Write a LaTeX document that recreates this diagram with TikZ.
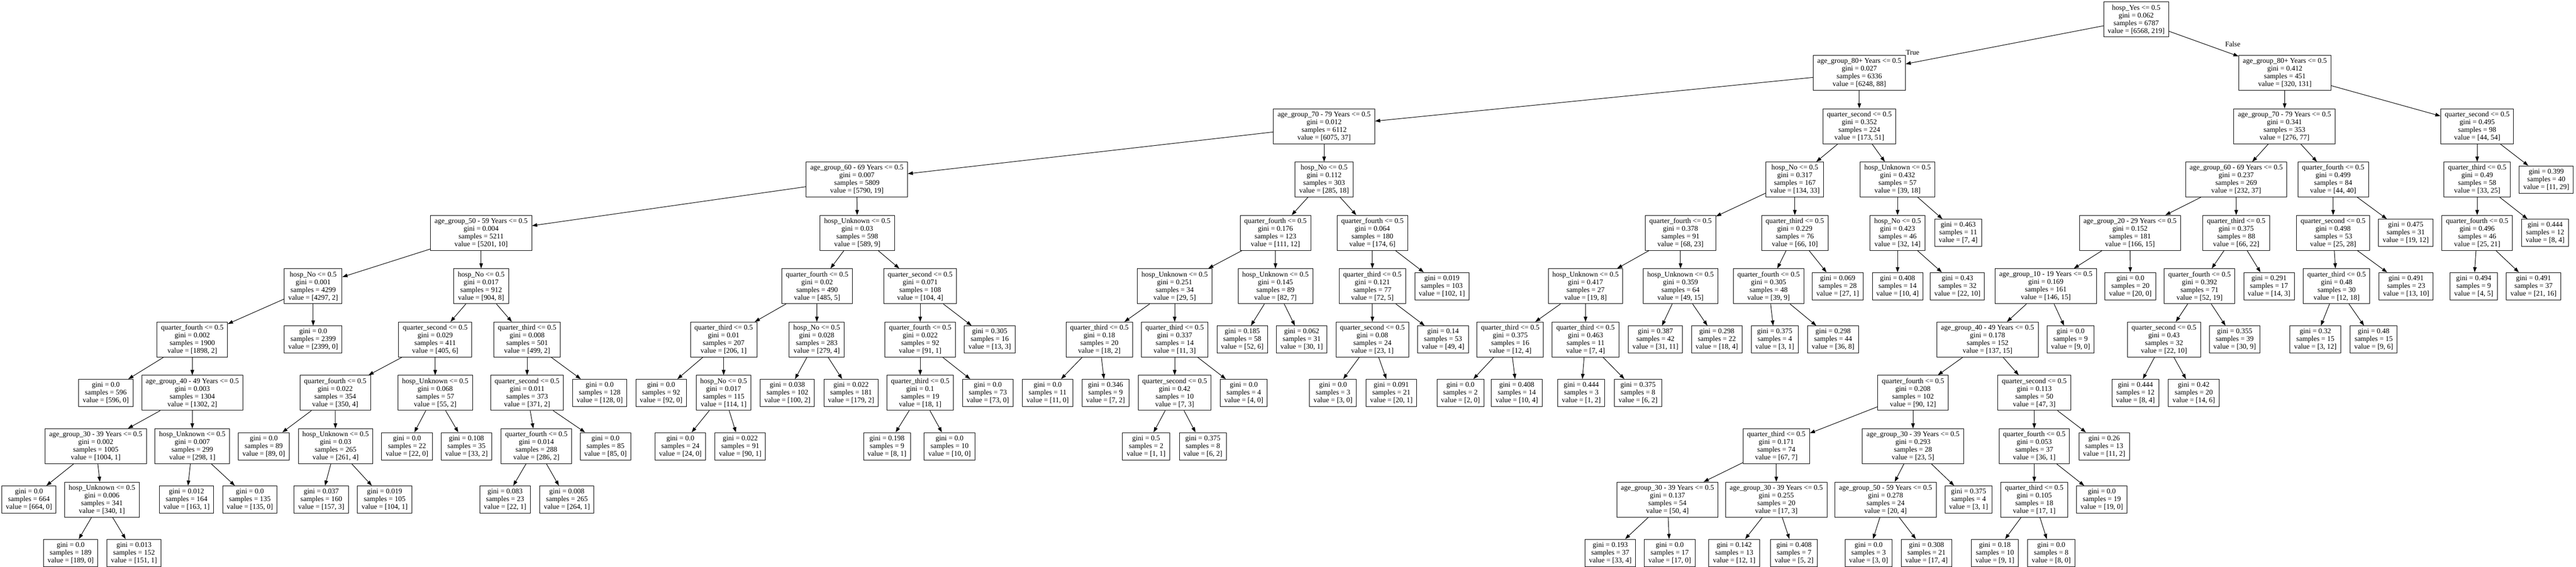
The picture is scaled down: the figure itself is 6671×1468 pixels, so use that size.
\documentclass[tikz,border=0pt]{standalone}
\usepackage{fontspec}
\setmainfont{Liberation Serif}
\usepackage{tikz}
\usetikzlibrary{arrows.meta}

\newcommand{\rowy}[1]{50.5+138.2*#1}

\begin{document}
\begin{tikzpicture}[x=0.75pt, y=-0.75pt,
        split/.style={draw, line width=1pt, rectangle, align=center, inner xsep=7.9pt, inner ysep=4pt, minimum height=68pt, font=\fontsize{14}{15}\selectfont},
        leaf/.style={split, minimum height=53pt},
        edge/.style={line width=1pt, -{Triangle[length=10pt, width=7pt]}},
        lbl/.style={font=\fontsize{14}{15}\selectfont, inner sep=0pt}]
            \useasboundingbox (0,0) rectangle (6671,1468);
            % split nodes: name/x/level/feature/gini/samples/value
            \foreach \nm/\px/\lv/\ft/\gn/\sm/\vl in {
                    root/5532/0/{hosp\_Yes}/0.062/6787/{6568, 219},
                    a80L/4815/1/{age\_group\_80+ Years}/0.027/6336/{6248, 88},
                    a80R/5917/1/{age\_group\_80+ Years}/0.412/451/{320, 131},
                    a70L/3429/2/{age\_group\_70 - 79 Years}/0.012/6112/{6075, 37},
                    qs352/4815/2/{quarter\_second}/0.352/224/{173, 51},
                    a70R/5916/2/{age\_group\_70 - 79 Years}/0.341/353/{276, 77},
                    qs495/6415/2/{quarter\_second}/0.495/98/{44, 54},
                    a60L/2219/3/{age\_group\_60 - 69 Years}/0.007/5809/{5790, 19},
                    hn112/3429/3/{hosp\_No}/0.112/303/{285, 18},
                    hn317/4648/3/{hosp\_No}/0.317/167/{134, 33},
                    hu432/4914/3/{hosp\_Unknown}/0.432/57/{39, 18},
                    a60R/5791/3/{age\_group\_60 - 69 Years}/0.237/269/{232, 37},
                    qf499/6042/3/{quarter\_fourth}/0.499/84/{44, 40},
                    qt49/6415/3/{quarter\_third}/0.49/58/{33, 25},
                    a50/1246/4/{age\_group\_50 - 59 Years}/0.004/5211/{5201, 10},
                    hu03/2220/4/{hosp\_Unknown}/0.03/598/{589, 9},
                    qf176/3303/4/{quarter\_fourth}/0.176/123/{111, 12},
                    qf064/3554/4/{quarter\_fourth}/0.064/180/{174, 6},
                    qf378/4352/4/{quarter\_fourth}/0.378/91/{68, 23},
                    qt229/4648/4/{quarter\_third}/0.229/76/{66, 10},
                    hn423/4914/4/{hosp\_No}/0.423/46/{32, 14},
                    a20/5516/4/{age\_group\_20 - 29 Years}/0.152/181/{166, 15},
                    qt375b/5791/4/{quarter\_third}/0.375/88/{66, 22},
                    qs498/6042/4/{quarter\_second}/0.498/53/{25, 28},
                    qf496/6415/4/{quarter\_fourth}/0.496/46/{25, 21},
                    hn001/811/5/{hosp\_No}/0.001/4299/{4297, 2},
                    hn017/1246/5/{hosp\_No}/0.017/912/{904, 8},
                    qf02/2116/5/{quarter\_fourth}/0.02/490/{485, 5},
                    qs071/2383/5/{quarter\_second}/0.071/108/{104, 4},
                    hu251/3042/5/{hosp\_Unknown}/0.251/34/{29, 5},
                    hu145/3303/5/{hosp\_Unknown}/0.145/89/{82, 7},
                    qt121/3554/5/{quarter\_third}/0.121/77/{72, 5},
                    hu417/4106/5/{hosp\_Unknown}/0.417/27/{19, 8},
                    hu359/4352/5/{hosp\_Unknown}/0.359/64/{49, 15},
                    qf305/4580/5/{quarter\_fourth}/0.305/48/{39, 9},
                    a10/5298/5/{age\_group\_10 - 19 Years}/0.169/161/{146, 15},
                    qf392/5696/5/{quarter\_fourth}/0.392/71/{52, 19},
                    qt48/6051/5/{quarter\_third}/0.48/30/{12, 18},
                    qf002/498/6/{quarter\_fourth}/0.002/1900/{1898, 2},
                    qs029/1127/6/{quarter\_second}/0.029/411/{405, 6},
                    qt008/1365/6/{quarter\_third}/0.008/501/{499, 2},
                    qt01/1874/6/{quarter\_third}/0.01/207/{206, 1},
                    hn028/2115/6/{hosp\_No}/0.028/283/{279, 4},
                    qf022b/2383/6/{quarter\_fourth}/0.022/92/{91, 1},
                    qt18/2847/6/{quarter\_third}/0.18/20/{18, 2},
                    qt337/3042/6/{quarter\_third}/0.337/14/{11, 3},
                    qs08/3554/6/{quarter\_second}/0.08/24/{23, 1},
                    qt375a/3911/6/{quarter\_third}/0.375/16/{12, 4},
                    qt463/4106/6/{quarter\_third}/0.463/11/{7, 4},
                    a40b/5147/6/{age\_group\_40 - 49 Years}/0.178/152/{137, 15},
                    qs043/5604/6/{quarter\_second}/0.43/32/{22, 10},
                    a40/498/7/{age\_group\_40 - 49 Years}/0.003/1304/{1302, 2},
                    qf022/868/7/{quarter\_fourth}/0.022/354/{350, 4},
                    hu068/1127/7/{hosp\_Unknown}/0.068/57/{55, 2},
                    qs011/1365/7/{quarter\_second}/0.011/373/{371, 2},
                    hn017b/1874/7/{hosp\_No}/0.017/115/{114, 1},
                    qt1/2383/7/{quarter\_third}/0.1/19/{18, 1},
                    qs042/3042/7/{quarter\_second}/0.42/10/{7, 3},
                    qf208/4954/7/{quarter\_fourth}/0.208/102/{90, 12},
                    qs113/5268/7/{quarter\_second}/0.113/50/{47, 3},
                    a30/248/8/{age\_group\_30 - 39 Years}/0.002/1005/{1004, 1},
                    hu007/498/8/{hosp\_Unknown}/0.007/299/{298, 1},
                    hu03b/869/8/{hosp\_Unknown}/0.03/265/{261, 4},
                    qf014/1389/8/{quarter\_fourth}/0.014/288/{286, 2},
                    qt171/4600/8/{quarter\_third}/0.171/74/{67, 7},
                    a30b/4954/8/{age\_group\_30 - 39 Years}/0.293/28/{23, 5},
                    qf053/5268/8/{quarter\_fourth}/0.053/37/{36, 1},
                    hu006/264/9/{hosp\_Unknown}/0.006/341/{340, 1},
                    a30c/4318/9/{age\_group\_30 - 39 Years}/0.137/54/{50, 4},
                    a30d/4600/9/{age\_group\_30 - 39 Years}/0.255/20/{17, 3},
                    a50b/4883/9/{age\_group\_50 - 59 Years}/0.278/24/{20, 4},
                    qt105/5268/9/{quarter\_third}/0.105/18/{17, 1}} {
                    \node[split] (\nm) at (\px,{\rowy{\lv}}) {\ft{} <= 0.5\\gini = \gn\\samples = \sm\\value = [\vl]};
                }
            % leaves: name/x/level/gini/samples/value
            \foreach \nm/\px/\lv/\gn/\sm/\vl in {
                    l399/6594/3/0.399/40/{11, 29},
                    l463/5071/4/0.463/11/{7, 4}, l475/6230/4/0.475/31/{19, 12}, l444a/6591/4/0.444/12/{8, 4},
                    l019/3734/5/0.019/103/{102, 1}, l069/4759/5/0.069/28/{27, 1}, l408a/4914/5/0.408/14/{10, 4},
                    l43/5069/5/0.43/32/{22, 10}, lz20/5517/5/0.0/20/{20, 0}, l291/5876/5/0.291/17/{14, 3},
                    l491a/6231/5/0.491/23/{13, 10}, l494/6406/5/0.494/9/{4, 5}, l491b/6561/5/0.491/37/{21, 16},
                    lz2399/811/6/0.0/2399/{2399, 0}, l305/2563/6/0.305/16/{13, 3}, l185/3217/6/0.185/58/{52, 6},
                    l062/3371/6/0.062/31/{30, 1}, l14/3737/6/0.14/53/{49, 4}, l387/4287/6/0.387/42/{31, 11},
                    l298a/4446/6/0.298/22/{18, 4}, l375a/4596/6/0.375/4/{3, 1}, l298b/4747/6/0.298/44/{36, 8},
                    lz9/5362/6/0.0/9/{9, 0}, l355/5787/6/0.355/39/{30, 9}, l32/5996/6/0.32/15/{3, 12},
                    l48/6147/6/0.48/15/{9, 6},
                    lz596/274/7/0.0/596/{596, 0}, lz128/1553/7/0.0/128/{128, 0}, lz92/1712/7/0.0/92/{92, 0},
                    l038/2039/7/0.038/102/{100, 2}, l022a/2204/7/0.022/181/{179, 2}, lz73/2558/7/0.0/73/{73, 0},
                    lz11/2713/7/0.0/11/{11, 0}, l346/2863/7/0.346/9/{7, 2}, lz4/3221/7/0.0/4/{4, 0},
                    lz3a/3452/7/0.0/3/{3, 0}, l091/3603/7/0.091/21/{20, 1}, lz2a/3782/7/0.0/2/{2, 0},
                    l408b/3928/7/0.408/14/{10, 4}, l444b/4095/7/0.444/3/{1, 2}, l375b/4242/7/0.375/8/{6, 2},
                    l444c/5530/7/0.444/12/{8, 4}, l42/5681/7/0.42/20/{14, 6},
                    lz89/683/8/0.0/89/{89, 0}, lz22/1054/8/0.0/22/{22, 0}, l108/1208/8/0.108/35/{33, 2},
                    lz85/1568/8/0.0/85/{85, 0}, lz24/1762/8/0.0/24/{24, 0}, l022b/1917/8/0.022/91/{90, 1},
                    l198/2297/8/0.198/9/{8, 1}, lz10/2459/8/0.0/10/{10, 0}, l5/2968/8/0.5/2/{1, 1},
                    l375c/3115/8/0.375/8/{6, 2}, l26/5449/8/0.26/13/{11, 2},
                    lz664/75/9/0.0/664/{664, 0}, l012/483/9/0.012/164/{163, 1}, lz135/647/9/0.0/135/{135, 0},
                    l037/832/9/0.037/160/{157, 3}, l019b/996/9/0.019/105/{104, 1}, l083/1308/9/0.083/23/{22, 1},
                    l008/1468/9/0.008/265/{264, 1}, l375d/5098/9/0.375/4/{3, 1}, lz19/5443/9/0.0/19/{19, 0},
                    lz189/183/10/0.0/189/{189, 0}, l013/347/10/0.013/152/{151, 1}, l193/4170/10/0.193/37/{33, 4},
                    lz17/4324/10/0.0/17/{17, 0}, l142/4491/10/0.142/13/{12, 1}, l408c/4646/10/0.408/7/{5, 2},
                    lz3b/4839/10/0.0/3/{3, 0}, l308/4989/10/0.308/21/{17, 4}, l18/5166/10/0.18/10/{9, 1},
                    lz8/5312/10/0.0/8/{8, 0}} {
                    \node[leaf] (\nm) at (\px,{\rowy{\lv}}) {gini = \gn\\samples = \sm\\value = [\vl]};
                }
            \foreach \a/\b in {root/a80L, root/a80R,
                    a80L/a70L, a80L/qs352, a70L/a60L, a70L/hn112, a60L/a50, a60L/hu03,
                    a50/hn001, a50/hn017, hn001/qf002, hn001/lz2399, qf002/lz596, qf002/a40,
                    a40/a30, a40/hu007, a30/lz664, a30/hu006, hu006/lz189, hu006/l013,
                    hu007/l012, hu007/lz135, hn017/qs029, hn017/qt008, qs029/qf022, qs029/hu068,
                    qf022/lz89, qf022/hu03b, hu03b/l037, hu03b/l019b, hu068/lz22, hu068/l108,
                    qt008/qs011, qt008/lz128, qs011/qf014, qs011/lz85, qf014/l083, qf014/l008,
                    hu03/qf02, hu03/qs071, qf02/qt01, qf02/hn028, qt01/lz92, qt01/hn017b,
                    hn017b/lz24, hn017b/l022b, hn028/l038, hn028/l022a, qs071/qf022b, qs071/l305,
                    qf022b/qt1, qf022b/lz73, qt1/l198, qt1/lz10,
                    hn112/qf176, hn112/qf064, qf176/hu251, qf176/hu145, hu251/qt18, hu251/qt337,
                    qt18/lz11, qt18/l346, qt337/qs042, qt337/lz4, qs042/l5, qs042/l375c,
                    hu145/l185, hu145/l062, qf064/qt121, qf064/l019, qt121/qs08, qt121/l14,
                    qs08/lz3a, qs08/l091,
                    qs352/hn317, qs352/hu432, hn317/qf378, hn317/qt229, qf378/hu417, qf378/hu359,
                    hu417/qt375a, hu417/qt463, qt375a/lz2a, qt375a/l408b, qt463/l444b, qt463/l375b,
                    hu359/l387, hu359/l298a, qt229/qf305, qt229/l069, qf305/l375a, qf305/l298b,
                    hu432/hn423, hu432/l463, hn423/l408a, hn423/l43,
                    a80R/a70R, a80R/qs495, a70R/a60R, a70R/qf499, a60R/a20, a60R/qt375b,
                    a20/a10, a20/lz20, a10/a40b, a10/lz9, a40b/qf208, a40b/qs113,
                    qf208/qt171, qf208/a30b, qt171/a30c, qt171/a30d, a30c/l193, a30c/lz17,
                    a30d/l142, a30d/l408c, a30b/a50b, a30b/l375d, a50b/lz3b, a50b/l308,
                    qs113/qf053, qs113/l26, qf053/qt105, qf053/lz19, qt105/l18, qt105/lz8,
                    qt375b/qf392, qt375b/l291, qf392/qs043, qf392/l355, qs043/l444c, qs043/l42,
                    qf499/qs498, qf499/l475, qs498/qt48, qs498/l491a, qt48/l32, qt48/l48,
                    qs495/qt49, qs495/l399, qt49/qf496, qt49/l444a, qf496/l494, qf496/l491b} {
                    \draw[edge] (\a) -- (\b);
                }

            \node[lbl] (truelbl) at ([shift={(18,-7)}]a80L.north east) {True};
            \node[lbl] (falselbl) at ([shift={(-15,-29)}]a80R.north west) {False};
        \end{tikzpicture}
\end{document}
